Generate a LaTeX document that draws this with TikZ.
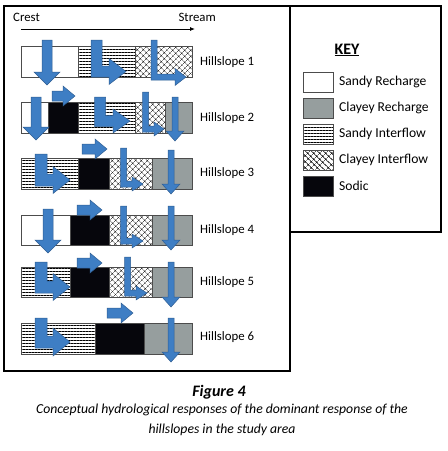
\documentclass[tikz,border=0pt]{standalone}
\usepackage{fontspec}
\setmainfont{Carlito}
\usepackage{xcolor}
\usepackage{tikz}
\usetikzlibrary{arrows.meta,patterns.meta}
\definecolor{flowblue}{RGB}{62,126,196}
\definecolor{claygray}{RGB}{150,158,158}
\definecolor{sodicblack}{RGB}{6,6,12}
\tikzset{
  sandyrech/.style={draw=black!70, fill=white},
  clayrech/.style={draw=black!70, fill=claygray},
  sandyflow/.style={draw=black!70, pattern={Lines[angle=0,distance=3pt,line width=0.5pt]}},
  clayflow/.style={draw=black!70, pattern={Hatch[angle=45,distance=4pt,line width=0.4pt]}},
  sodic/.style={draw=black!70, fill=sodicblack},
  flow/.style={fill=flowblue, draw=flowblue!75!black, line width=0.5pt},
  lbl/.style={font=\fontsize{12.8}{14}\selectfont, inner sep=0pt},
  keylbl/.style={font=\fontsize{13.6}{15}\selectfont, inner sep=0pt},
  frame/.style={draw=black, line width=1.3pt},
}
% block arrows: centre, top, tip, shaft half width, head half width, head length
\newcommand{\flowdown}[6]{%
  \draw[flow] ({#1-#4},#2) -- ({#1+#4},#2) -- ({#1+#4},{#3-#6}) -- ({#1+#5},{#3-#6})
    -- (#1,#3) -- ({#1-#5},{#3-#6}) -- ({#1-#4},{#3-#6}) -- cycle;}
% left end, centre line, tip, shaft half width, head half width, head length
\newcommand{\flowright}[6]{%
  \draw[flow] (#1,{#2-#4}) -- ({#3-#6},{#2-#4}) -- ({#3-#6},{#2-#5}) -- (#3,#2)
    -- ({#3-#6},{#2+#5}) -- ({#3-#6},{#2+#4}) -- (#1,{#2+#4}) -- cycle;}
% bent arrow: shaft x, top, corner y, tip, shaft half width, head half width, head length
\newcommand{\flowbend}[7]{%
  \draw[flow] ({#1-#5},#2) -- ({#1+#5},#2) -- ({#1+#5},{#3-#5}) -- ({#4-#7},{#3-#5})
    -- ({#4-#7},{#3-#6}) -- (#4,#3) -- ({#4-#7},{#3+#6}) -- ({#4-#7},{#3+#5})
    -- ({#1-#5},{#3+#5}) -- cycle;}

\begin{document}
\begin{tikzpicture}[x=1pt,y=-1pt]
  \useasboundingbox (0,0) rectangle (448,451);
  % frames
  \draw[frame] (4,6) rectangle (290,371);
  \draw[frame] (290,6) rectangle (441,232);

  % crest to stream
  \node[lbl, anchor=west] (crest) at (13,17) {Crest};
  \node[lbl, anchor=east] (stream) at (216,17) {Stream};
  \coordinate (dirL) at (21,29);
  \coordinate (dirR) at (195,29);
  \draw[-{Latex[length=5pt,width=4pt]}, line width=0.8pt] (dirL) -- (dirR);

  % hillslope bars
  \foreach \xa/\xb/\s in {21/78/sandyrech,78/135/sandyflow,135/192/clayflow}
    \draw[\s] (\xa,46) rectangle (\xb,77);
  \foreach \xa/\xb/\s in {21/48/sandyrech,48/78/sodic,78/135/sandyflow,135/165/clayflow,165/192/clayrech}
    \draw[\s] (\xa,102) rectangle (\xb,133);
  \foreach \xa/\xb/\s in {21/78/sandyflow,78/109/sodic,109/152/clayflow,152/192/clayrech}
    \draw[\s] (\xa,158) rectangle (\xb,189);
  \foreach \xa/\xb/\s in {21/70/sandyrech,70/109/sodic,109/152/clayflow,152/192/clayrech}
    \draw[\s] (\xa,215) rectangle (\xb,245);
  \foreach \xa/\xb/\s in {21/70/sandyflow,70/109/sodic,109/152/clayflow,152/192/clayrech}
    \draw[\s] (\xa,267) rectangle (\xb,297);
  \foreach \xa/\xb/\s in {21/95/sandyflow,95/144/sodic,144/192/clayrech}
    \draw[\s] (\xa,323) rectangle (\xb,354);

  \node[lbl, anchor=west] (hs1) at (200,62) {Hillslope 1};
  \node[lbl, anchor=west] (hs2) at (200,118) {Hillslope 2};
  \node[lbl, anchor=west] (hs3) at (200,173) {Hillslope 3};
  \node[lbl, anchor=west] (hs4) at (200,230) {Hillslope 4};
  \node[lbl, anchor=west] (hs5) at (200,282) {Hillslope 5};
  \node[lbl, anchor=west] (hs6) at (200,337) {Hillslope 6};

  % flow arrows
  \flowdown{47}{40}{85}{5}{13}{13}
  \flowbend{96.5}{40}{71.5}{126}{5.5}{13}{17}
  \flowbend{154}{40}{77}{186}{3}{8.5}{11}

  \flowdown{36}{97}{140}{5}{13}{13}
  \flowright{52}{96}{75}{5}{10}{12}
  \flowbend{100}{97}{121}{130}{5.5}{12}{17}
  \flowbend{145.5}{92}{129}{164}{3}{7}{10}
  \flowdown{175}{97}{141}{3}{9}{10}

  \flowbend{41}{154}{180}{70}{6}{13.5}{17}
  \flowright{82}{149}{107}{5}{10}{12}
  \flowbend{123.5}{148}{184}{143}{3}{7}{11}
  \flowdown{171}{150}{194}{3}{9}{10}

  \flowdown{48}{209}{253}{5}{13}{13}
  \flowright{77}{210}{102}{5}{10}{12}
  \flowbend{123.5}{206}{241}{143}{3}{7}{11}
  \flowdown{171}{206}{250}{3}{9}{10}

  \flowbend{41}{262}{287}{70}{6}{13.5}{17}
  \flowright{77}{263}{102}{5}{10}{12}
  \flowbend{127.5}{257}{293}{147}{3}{7}{11}
  \flowdown{171}{262}{307}{3}{9}{10}

  \flowbend{41}{318}{342}{70}{6}{14}{17}
  \flowright{107}{313}{133}{5}{10}{12}
  \flowdown{171}{318}{362}{3}{9}{10}

  % key
  \node[font=\bfseries\fontsize{16}{18}\selectfont, inner sep=0pt] (key) at (347,50) {\underline{KEY}};
  \foreach \y/\s/\t in {72/sandyrech/Sandy Recharge,98/clayrech/Clayey Recharge,
      124/sandyflow/Sandy Interflow,150/clayflow/Clayey Interflow,176/sodic/Sodic} {
    \draw[\s] (303,\y) rectangle (333,\y+20);
    \node[keylbl, anchor=west] at (339,\y+10) {\t};
  }

  % caption
  \node[font=\bfseries\itshape\fontsize{16}{18}\selectfont, inner sep=0pt] (fig) at (219,392) {Figure 4};
  \node[font=\itshape\fontsize{13.7}{19.5}\selectfont, align=center, inner sep=0pt, anchor=north] (cap) at (222,404)
    {Conceptual hydrological responses of the dominant response of the\\hillslopes in the study area};
\end{tikzpicture}
\end{document}
